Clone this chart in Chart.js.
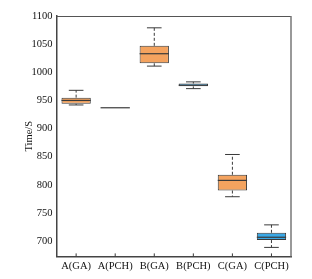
<!DOCTYPE html>
<html>
<head>
<meta charset="utf-8">
<script src="https://cdn.jsdelivr.net/npm/chart.js@4.4.0/dist/chart.umd.min.js"></script>
<style>
  html, body { margin: 0; padding: 0; background: #fff; }
  #wrap { width: 312px; height: 279px; }
</style>
</head>
<body>
<div id="wrap"><canvas id="chart" width="312" height="279"></canvas></div>
<script>
const categories = ['A(GA)', 'A(PCH)', 'B(GA)', 'B(PCH)', 'C(GA)', 'C(PCH)'];
const whiskerLow = [942, 937, 1011, 971, 779, 689];
const q1 = [944, 937, 1016, 975, 790, 702];
const medians = [950, 937, 1033, 977, 808, 707];
const q3 = [955, 937, 1047, 980, 818, 715];
const whiskerHigh = [968, 937, 1079, 983, 854, 729];
const boxColors = ['#f4a35f', '#f4a35f', '#f4a35f', '#3aa8e6', '#f4a35f', '#3aa8e6'];
const yTicks = [700, 750, 800, 850, 900, 950, 1000, 1050, 1100];

const serif = 'Liberation Serif';
const lineColor = '#3a3a3a';

// whiskers, caps and medians drawn from the scales
const boxExtras = {
    id: 'boxExtras',
    afterDatasetsDraw(chart) {
        const { ctx, scales: { x, y } } = chart;
        const bars = chart.getDatasetMeta(0).data;
        ctx.save();
        ctx.strokeStyle = lineColor;
        ctx.lineWidth = 1;
        categories.forEach((c, i) => {
            const cx = x.getPixelForValue(i);
            const half = bars[i].width / 2;
            const cap = half / 2;
            const yLo = y.getPixelForValue(whiskerLow[i]);
            const yQ1 = y.getPixelForValue(q1[i]);
            const yQ3 = y.getPixelForValue(q3[i]);
            const yHi = y.getPixelForValue(whiskerHigh[i]);
            const yMed = y.getPixelForValue(medians[i]);
            if (whiskerHigh[i] !== whiskerLow[i]) {
                ctx.setLineDash([3, 2]);
                ctx.beginPath();
                ctx.moveTo(cx, yQ3); ctx.lineTo(cx, yHi);
                ctx.moveTo(cx, yQ1); ctx.lineTo(cx, yLo);
                ctx.stroke();
                ctx.setLineDash([]);
                ctx.beginPath();
                ctx.moveTo(cx - cap, yHi); ctx.lineTo(cx + cap, yHi);
                ctx.moveTo(cx - cap, yLo); ctx.lineTo(cx + cap, yLo);
                ctx.stroke();
            }
            ctx.lineWidth = 1.2;
            ctx.beginPath();
            ctx.moveTo(cx - half, yMed); ctx.lineTo(cx + half, yMed);
            ctx.stroke();
            ctx.lineWidth = 1;
            // small inward tick on the x axis
            ctx.beginPath();
            ctx.moveTo(cx, chart.chartArea.bottom); ctx.lineTo(cx, chart.chartArea.bottom - 3);
            ctx.stroke();
        });
        ctx.restore();
    }
};

// top and right frame lines
const frame = {
    id: 'frame',
    afterDraw(chart) {
        const { ctx, chartArea: a } = chart;
        ctx.save();
        ctx.strokeStyle = '#555';
        ctx.lineWidth = 1;
        ctx.beginPath();
        ctx.moveTo(a.left, a.top + 0.5); ctx.lineTo(a.right, a.top + 0.5);
        ctx.stroke();
        ctx.strokeStyle = '#777';
        ctx.lineWidth = 1.5;
        ctx.beginPath();
        ctx.moveTo(a.right, a.top); ctx.lineTo(a.right, a.bottom);
        ctx.stroke();
        ctx.restore();
    }
};

const chart = new Chart(document.getElementById('chart'), {
    type: 'bar',
    data: {
        labels: categories,
        datasets: [{
            data: q1.map((v, i) => [v, q3[i]]),
            backgroundColor: boxColors,
            borderColor: lineColor,
            borderWidth: 1,
            borderSkipped: false,
            barPercentage: 0.75,
            categoryPercentage: 1
        }]
    },
    plugins: [boxExtras, frame],
    options: {
        responsive: false,
        animation: false,
        layout: { padding: { top: 16, right: 21, left: 23, bottom: 2 } },
        plugins: {
            legend: { display: false },
            tooltip: { enabled: false }
        },
        scales: {
            x: {
                grid: { display: false, drawTicks: false },
                border: { color: '#444', width: 1.5 },
                ticks: { color: '#111', font: { family: serif, size: 10.5 }, padding: 4, maxRotation: 0, autoSkip: false }
            },
            y: {
                min: 673,
                max: 1100,
                grid: { display: false, drawTicks: true, tickLength: 3, tickColor: '#444' },
                border: { color: '#444', width: 1.5 },
                afterBuildTicks: (axis) => { axis.ticks = yTicks.map(v => ({ value: v })); },
                ticks: { color: '#111', font: { family: serif, size: 10.5 }, padding: 1, callback: (v) => String(v) },
                title: { display: true, text: 'Time/S', color: '#111', font: { family: serif, size: 10.5 }, padding: { top: 0, bottom: -5 } }
            }
        }
    }
});
</script>
</body>
</html>
